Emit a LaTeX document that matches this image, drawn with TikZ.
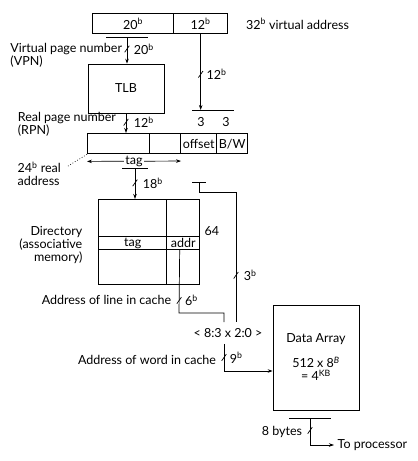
\documentclass[tikz,border=0pt]{standalone}
\usepackage{fontspec}
\setmainfont{Lato}
\usetikzlibrary{arrows.meta,positioning,matrix}

\begin{document}
\begin{tikzpicture}[x=1pt, y=-1pt, line width=0.7pt,
        font=\fontsize{12.5}{13}\selectfont,
        >={Stealth[length=5pt, width=3.5pt]},
        arr/.style={matrix of nodes, ampersand replacement=\&, nodes in empty cells,
          row sep=-\pgflinewidth, column sep=-\pgflinewidth, inner sep=0pt,
          nodes={draw, minimum height=20pt, inner sep=0pt, anchor=center}},
        bus/.style={draw, inner sep=0pt, minimum width=0pt, minimum height=8pt, rotate=-35}
        ]
        \useasboundingbox (0,0) rectangle (418,461);

        \matrix[arr, anchor=north west,
          column 1/.style={nodes={minimum width=81pt}},
          column 2/.style={nodes={minimum width=54pt}}] (VA) at (92,13) {
          20\textsuperscript{b} \& 12\textsuperscript{b} \\
        };
        \node[right=14pt of VA] (va) {32\textsuperscript{b} virtual address};

        \node[draw, minimum width=76pt, minimum height=49pt] (TLB) at (126,88.5) {TLB};

        \coordinate (b1) at (127,37);
        \draw ([xshift=-21pt]b1) -- ([xshift=21pt]b1);
        \draw[->] (b1) -- node[bus, pos=0.45] (s1) {} (b1 |- TLB.north);
        \node[right=3pt of s1] (l1) {20\textsuperscript{b}};
        \node[align=left, left=1pt of s1, yshift=-6.5pt] (vpn) {Virtual page number\\(VPN)};

        \coordinate (b2) at (213,110);
        \draw ([xshift=-21pt]b2) -- ([xshift=21pt]b2);
        \draw[->] (VA-1-2.south) -- node[bus, pos=0.53] (s2) {} (VA-1-2.south |- b2);
        \node[right=2pt of s2] (l2) {12\textsuperscript{b}};
        \node (o1) at (201,122) {3};
        \node (o2) at (226,122) {3};

        \matrix[arr, anchor=north west,
          column 1/.style={nodes={minimum width=62pt}},
          column 2/.style={nodes={minimum width=31pt}},
          column 3/.style={nodes={minimum width=36pt}},
          column 4/.style={nodes={minimum width=31pt}}] (RA) at (87,133) {
          \& \& offset \& B/W \\
        };
        \draw[->] (TLB) -- node[bus, pos=0.45] (s3) {} (TLB |- RA.north);
        \node[right=4pt of s3] (l3) {12\textsuperscript{b}};
        \node[align=left, left=6pt of s3, yshift=-2.5pt] (rpn) {Real page number\\(RPN)};

        \node[align=left, anchor=west] (ra) at (14,174) {24\textsuperscript{b} real\\address};
        \coordinate (d1) at (68,166);
        \draw[dotted] (RA.south west) -- (d1);

        \draw[<->] ([yshift=-7pt]RA.south west) -- node[fill=white, inner sep=1pt] (tg) {tag}
          ([yshift=-7pt]RA-1-2.south east);

        \coordinate (b3) at (135,168);
        \draw ([xshift=-13pt]b3) -- ([xshift=13pt]b3);

        \matrix[arr, anchor=north west,
          column 1/.style={nodes={minimum width=68pt}},
          column 2/.style={nodes={minimum width=33pt}},
          row 1/.style={nodes={minimum height=37pt}},
          row 2/.style={nodes={minimum height=13pt}},
          row 3/.style={nodes={minimum height=35pt}}] (Dir) at (98,199) {
          \& \\
          tag \& addr \\
          \& \\
        };
        \draw[->] (b3) -- node[bus, pos=0.48] (s5) {} (b3 |- Dir.north);
        \node[right=4pt of s5] (l5) {18\textsuperscript{b}};
        \node[anchor=west] (n64) at (201,231) {64};
        \node[align=right, left=12pt of Dir.west, yshift=-2.5pt] (dl) {Directory\\(associative\\memory)};

        \node[inner ysep=6pt] (AW) at (228,333) {< 8:3 x 2:0 >};

        \coordinate (b4) at (199,182);
        \draw ([xshift=-7pt]b4) -- ([xshift=7pt]b4);
        \draw (b4) -- ++(0,10) -| node[bus, pos=0.82] (s4) {} ([xshift=8pt]AW.north);
        \node[right=4pt of s4] (l4) {3\textsuperscript{b}};

        \coordinate (c6) at (179,313);
        \draw ([xshift=-3.5pt]Dir-2-2.south) -- node[bus, pos=0.8] (s6) {} (c6) -| ([xshift=-4pt]AW.north);
        \node[right=2pt of s6] (l6) {6\textsuperscript{b}};
        \node[left=4pt of s6] (al) {Address of line in cache};

        \node[draw, minimum width=86pt, minimum height=105pt, align=center] (DA) at (316,357.5)
          {Data Array\\[12pt]512 x 8\textsuperscript{\itshape B}\\= 4\textsuperscript{KB}};

        \coordinate (c9) at (224,371);
        \draw[->] ([xshift=-4pt]AW.south) -- node[bus, pos=0.5] (s9) {} (c9) -- (c9 -| DA.west);
        \node[right=2pt of s9] (l9) {9\textsuperscript{b}};
        \node[left=4pt of s9, yshift=-3pt] (aw) {Address of word in cache};

        \node[anchor=west] (tp) at (334,445) {To processor};
        \coordinate (b5) at (310,418);
        \draw ([xshift=-21pt]b5) -- ([xshift=21pt]b5);
        \draw[->] (b5) |- node[bus, pos=0.23] (s8) {} (tp.west);
        \node[left=4pt of s8, yshift=-2pt] (by) {8 bytes};
      \end{tikzpicture}
\end{document}
